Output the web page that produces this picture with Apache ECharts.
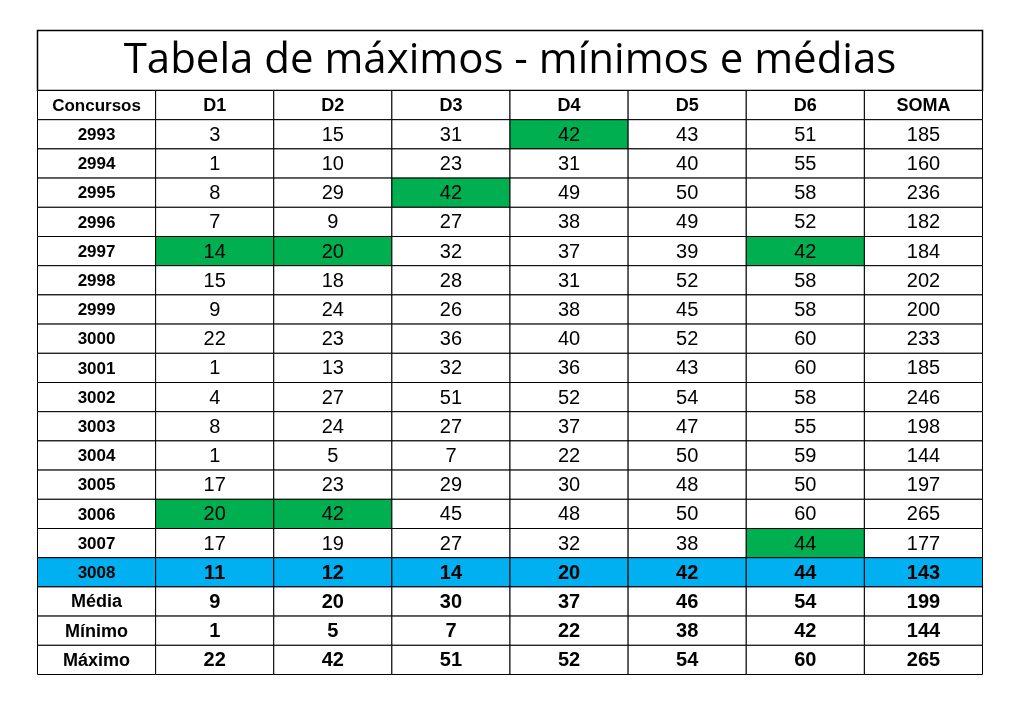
<!DOCTYPE html>
<html><head><meta charset="utf-8">
<script src="https://cdn.jsdelivr.net/npm/echarts@6/dist/echarts.min.js"></script>
<style>html,body{margin:0;background:#fff}#c{width:1017px;height:704px}</style>
</head><body><div id="c"></div>
<script>
const titleText = 'Tabela de máximos - mínimos e médias';
const columns = ['Concursos','D1','D2','D3','D4','D5','D6','SOMA'];
const draws = [
 ['2993',3,15,31,42,43,51,185],
 ['2994',1,10,23,31,40,55,160],
 ['2995',8,29,42,49,50,58,236],
 ['2996',7,9,27,38,49,52,182],
 ['2997',14,20,32,37,39,42,184],
 ['2998',15,18,28,31,52,58,202],
 ['2999',9,24,26,38,45,58,200],
 ['3000',22,23,36,40,52,60,233],
 ['3001',1,13,32,36,43,60,185],
 ['3002',4,27,51,52,54,58,246],
 ['3003',8,24,27,37,47,55,198],
 ['3004',1,5,7,22,50,59,144],
 ['3005',17,23,29,30,48,50,197],
 ['3006',20,42,45,48,50,60,265],
 ['3007',17,19,27,32,38,44,177]
];
const current = ['3008',11,12,14,20,42,44,143];
const stats = [
 ['Média',9,20,30,37,46,54,199],
 ['Mínimo',1,5,7,22,38,42,144],
 ['Máximo',22,42,51,52,54,60,265]
];
// green highlighted cells: [draw label, column index]
const greens = [['2993',4],['2995',3],['2997',1],['2997',2],['2997',6],['3006',1],['3006',2],['3007',6]];

const rows = [columns, ...draws, current, ...stats];
const rowNames = rows.map((r,i)=>'r'+i);
const cells = [];
rows.forEach((r,ri)=>{
  r.forEach((v,ci)=>{
    let fill='#ffffff', bold=false, size=20;
    if(ri===0){bold=true;size=ci===0?17:18;}
    else if(ci===0){bold=true;size=17;}
    if(ri===draws.length+1){fill='#00b0f0';bold=true;}
    if(ri>draws.length+1){bold=true;if(ci===0)size=18;}
    if(ri>=1 && ri<=draws.length && greens.some(g=>g[0]===r[0]&&g[1]===ci)) fill='#00b050';
    cells.push({value:[ci,ri,String(v)],fill,bold,size});
  });
});
const chart = echarts.init(document.getElementById('c'));
chart.setOption({
  animation:false,
  graphic:[
    {type:'rect',shape:{x:37.5,y:30.5,width:945,height:60},style:{fill:'#fff',stroke:'#000',lineWidth:1.5}},
    {type:'text',x:510,y:61,style:{text:titleText,font:'42px "Open Sans", sans-serif',fill:'#000',align:'center',verticalAlign:'middle'}}
  ],
  grid:{left:37.5,top:90.5,width:945,height:584},
  xAxis:{type:'category',data:columns,show:false},
  yAxis:{type:'category',data:rowNames,inverse:true,show:false},
  series:[{
    type:'custom',
    data:cells,
    renderItem:(params,api)=>{
      const d=cells[params.dataIndex];
      const c=api.coord([api.value(0),api.value(1)]);
      const s=api.size([1,1]);
      return {type:'group',children:[
        {type:'rect',shape:{x:c[0]-s[0]/2,y:c[1]-s[1]/2,width:s[0],height:s[1]},style:{fill:d.fill,stroke:'#000',lineWidth:1}},
        {type:'text',x:c[0],y:c[1]+1,style:{text:d.value[2],fill:'#000',align:'center',verticalAlign:'middle',
          font:(d.bold?'bold ':'')+d.size+'px "Liberation Sans", Arial, sans-serif'}}
      ]};
    }
  }]
});
</script></body></html>
